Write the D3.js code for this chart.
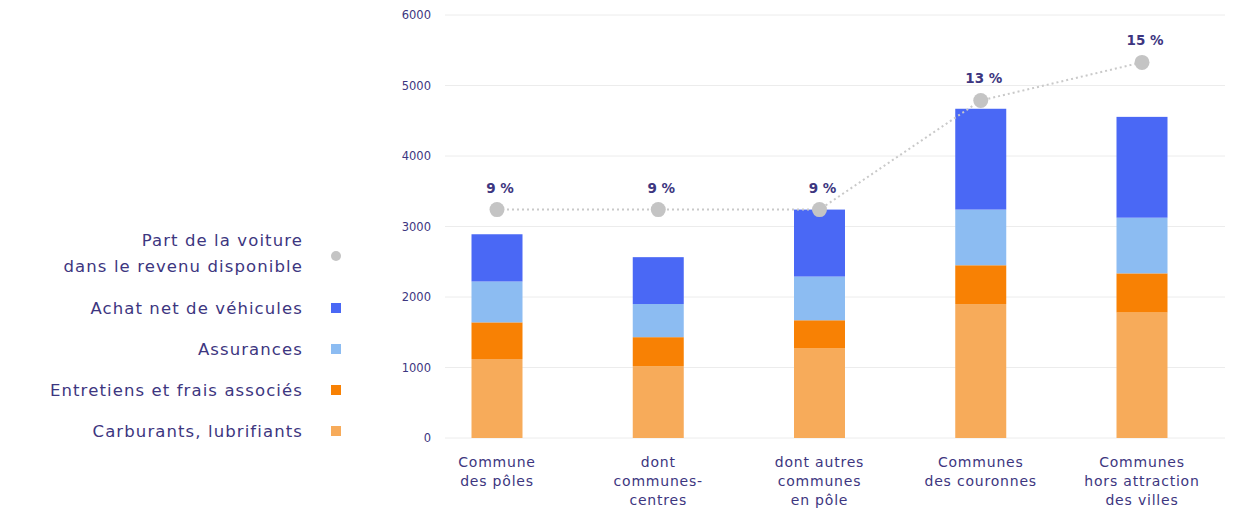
<!DOCTYPE html>
<html>
<head>
<meta charset="utf-8">
<script src="https://cdn.jsdelivr.net/npm/d3@7"></script>
<style>
  body { margin: 0; background: #fff; }
  svg text { font-family: "DejaVu Sans", "Noto Sans", sans-serif; fill: #3d3680; }
  .grid line { stroke: #ececec; }
</style>
</head>
<body>
<div id="chart"></div>
<script>
// categories and values
const categories = [
  ["Commune", "des pôles"],
  ["dont", "communes-", "centres"],
  ["dont autres", "communes", "en pôle"],
  ["Communes", "des couronnes"],
  ["Communes", "hors attraction", "des villes"]
];
const carburants = [1120, 1020, 1270, 1900, 1780];
const entretiens = [520, 410, 400, 550, 555];
const assurances = [580, 470, 620, 790, 790];
const achat = [670, 665, 950, 1430, 1430];
const partVoiture = [9.0, 9.0, 9.0, 13.3, 14.8];
const yTicks = [0, 1000, 2000, 3000, 4000, 5000, 6000];

const series = [
  { name: "Carburants, lubrifiants", values: carburants, color: "#f7ab5a" },
  { name: "Entretiens et frais associés", values: entretiens, color: "#f88104" },
  { name: "Assurances", values: assurances, color: "#8cbcf2" },
  { name: "Achat net de véhicules", values: achat, color: "#4a68f5" }
];

const W = 1238, H = 512;
const svg = d3.select("#chart").append("svg")
  .attr("width", W).attr("height", H);

const idx = d3.range(categories.length);
const x = d3.scalePoint().domain(idx).range([497, 1142]);
const y = d3.scaleLinear().domain([0, 6000]).range([438, 15]);
const yPct = d3.scaleLinear().domain([0, 6000 / 360]).range([438, 15]);
const barW = 51;

// grid + y labels
const grid = svg.append("g").attr("class", "grid");
grid.selectAll("line").data(yTicks).join("line")
  .attr("x1", 445).attr("x2", 1225)
  .attr("y1", d => y(d)).attr("y2", d => y(d));
svg.append("g").selectAll("text").data(yTicks).join("text")
  .attr("x", 431).attr("y", d => y(d) + 4)
  .attr("text-anchor", "end")
  .style("font-size", "11.5px")
  .text(d => d);

// stacked bars
const rows = idx.map(i => {
  const r = { i };
  series.forEach(s => r[s.name] = s.values[i]);
  return r;
});
const stack = d3.stack().keys(series.map(s => s.name))(rows);
svg.append("g").selectAll("g").data(stack).join("g")
  .attr("fill", (d, k) => series[k].color)
  .selectAll("rect").data(d => d).join("rect")
  .attr("x", d => x(d.data.i) - barW / 2)
  .attr("width", barW)
  .attr("y", d => y(d[1]))
  .attr("height", d => y(d[0]) - y(d[1]));

// share line
const line = d3.line().x((d, i) => x(i)).y(d => yPct(d));
svg.append("path").datum(partVoiture)
  .attr("d", line)
  .attr("fill", "none")
  .attr("stroke", "#c9c9c9")
  .attr("stroke-width", 2)
  .attr("stroke-dasharray", "2,3");
svg.append("g").selectAll("circle").data(partVoiture).join("circle")
  .attr("cx", (d, i) => x(i)).attr("cy", d => yPct(d))
  .attr("r", 7.5).attr("fill", "#c4c4c4");
svg.append("g").selectAll("text").data(partVoiture).join("text")
  .attr("x", (d, i) => x(i) + 3).attr("y", d => yPct(d) - 17)
  .attr("text-anchor", "middle")
  .style("font-size", "13.5px").style("font-weight", "bold")
  .text(d => Math.round(d) + " %");

// x labels
const xl = svg.append("g").selectAll("text").data(categories).join("text")
  .attr("x", (d, i) => x(i)).attr("y", 467)
  .attr("text-anchor", "middle")
  .style("font-size", "14px")
  .style("letter-spacing", "0.8px");
xl.selectAll("tspan").data(d => d).join("tspan")
  .attr("x", function () { return d3.select(this.parentNode).attr("x"); })
  .attr("dy", (d, j) => j === 0 ? 0 : 19)
  .text(d => d);

// legend
const leg = svg.append("g");
const legText = (t, yy) => leg.append("text")
  .attr("x", 303).attr("y", yy).attr("text-anchor", "end")
  .style("font-size", "16.5px")
  .style("letter-spacing", "1.1px")
  .text(t);
legText("Part de la voiture", 246);
legText("dans le revenu disponible", 272);
leg.append("circle").attr("cx", 336).attr("cy", 256).attr("r", 5).attr("fill", "#c4c4c4");
series.slice().reverse().forEach((s, k) => {
  const yy = 308 + k * 41;
  legText(s.name, yy + 6);
  leg.append("rect").attr("x", 331).attr("y", yy - 5).attr("width", 10).attr("height", 10)
    .attr("fill", s.color);
});
</script>
</body>
</html>
